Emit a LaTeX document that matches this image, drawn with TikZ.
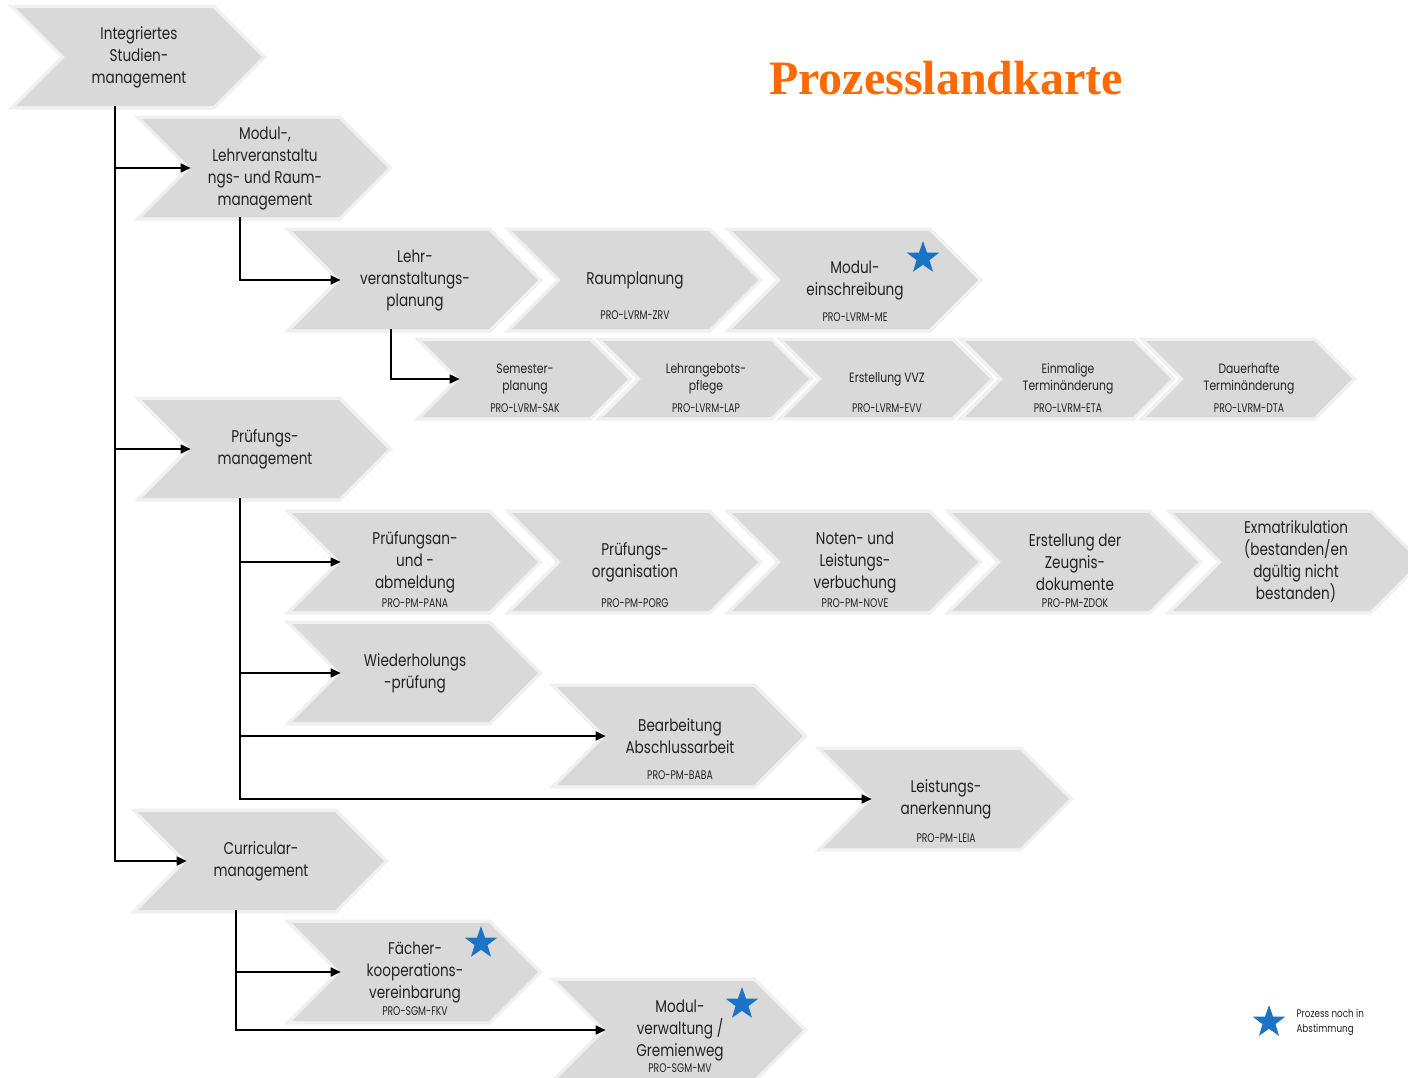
\documentclass[tikz,border=0pt]{standalone}
\usepackage{fontspec}
\setmainfont{Poppins}[FakeStretch=0.8]
\newfontfamily\codefont{Poppins}[FakeStretch=0.74]
\newfontfamily\titlefont{Liberation Serif}
\usetikzlibrary{shapes.symbols,shapes.geometric,arrows.meta,calc}
\definecolor{chevfill}{HTML}{D9D9D9}
\definecolor{chevglow}{HTML}{F0F0F0}
\definecolor{txt}{HTML}{222222}
\definecolor{starblue}{HTML}{1A73C4}
\definecolor{titleorange}{HTML}{FF6A00}
\tikzset{
  chev/.style={signal, signal from=west, signal to=east, signal pointer angle=90,
    minimum width=246pt, minimum height=98pt, inner sep=0pt, fill=chevfill,
    preaction={draw=chevglow, line width=7pt, line join=miter},
    align=center, font=\fontsize{17}{22}\selectfont, text=txt},
  smallchev/.style={chev, minimum width=206pt, minimum height=76pt,
    font=\fontsize{13.5}{17}\selectfont},
  code/.style={font=\codefont\fontsize{12.5}{12.5}\selectfont, text=txt, inner sep=0pt},
  bluestar/.style={star, star points=5, star point ratio=2.5, minimum size=34pt,
    inner sep=0pt, fill=starblue},
  conn/.style={draw=black, line width=1.5pt, -{Triangle[length=10pt,width=9pt]}}
}
\begin{document}
\begin{tikzpicture}[x=1pt,y=-1pt]
\useasboundingbox (0,0) rectangle (1408,1077);
\clip (0,0) rectangle (1408,1077);
\fill[white] (0,0) rectangle (1408,1077);

% title
\node[font=\titlefont\bfseries\fontsize{48}{48}\selectfont, text=titleorange] (title) at (946,78) {Prozesslandkarte};

% level 1
\node[chev] (c1) at (139,57) {Integriertes\\Studien-\\management};
% level 2
\node[chev] (c2) at (265,168) {Modul-,\\Lehrveranstaltu\\ngs- und Raum-\\management};
\node[chev] (c11) at (265,449) {Prüfungs-\\management};
\node[chev] (c20) at (261,861) {Curricular-\\management};

% LVRM row
\node[chev] (c3) at (415,280) {Lehr-\\veranstaltungs-\\planung};
\node[chev] (c4) at (635,280) {Raumplanung};
\node[code] (k4) at ($(c4)+(0,35)$) {PRO-LVRM-ZRV};
\node[chev] (c5) at (855,280) {Modul-\\einschreibung};
\node[code] (k5) at ($(c5)+(0,37)$) {PRO-LVRM-ME};
\node[bluestar] (s5) at ($(c5)+(68,-22)$) {};

% small row
\node[smallchev] (c6) at (525,379) {Semester-\\planung};
\node[code] (k6) at ($(c6)+(0,29)$) {PRO-LVRM-SAK};
\node[smallchev] (c7) at (706,379) {Lehrangebots-\\pflege};
\node[code] (k7) at ($(c7)+(0,29)$) {PRO-LVRM-LAP};
\node[smallchev] (c8) at (887,379) {Erstellung VVZ};
\node[code] (k8) at ($(c8)+(0,29)$) {PRO-LVRM-EVV};
\node[smallchev] (c9) at (1068,379) {Einmalige\\Terminänderung};
\node[code] (k9) at ($(c9)+(0,29)$) {PRO-LVRM-ETA};
\node[smallchev] (c10) at (1249,379) {Dauerhafte\\Terminänderung};
\node[code] (k10) at ($(c10)+(0,29)$) {PRO-LVRM-DTA};

% PM row
\node[chev] (c12) at (415,562) {Prüfungsan-\\und -\\abmeldung};
\node[code] (k12) at ($(c12)+(0,41)$) {PRO-PM-PANA};
\node[chev] (c13) at (635,562) {Prüfungs-\\organisation};
\node[code] (k13) at ($(c13)+(0,41)$) {PRO-PM-PORG};
\node[chev] (c14) at (855,562) {Noten- und\\Leistungs-\\verbuchung};
\node[code] (k14) at ($(c14)+(0,41)$) {PRO-PM-NOVE};
\node[chev] (c15) at (1075,562) {Erstellung der\\Zeugnis-\\dokumente};
\node[code] (k15) at ($(c15)+(0,41)$) {PRO-PM-ZDOK};
\node[chev] (c16) at (1296,562) {Exmatrikulation\\(bestanden/en\\dgültig nicht\\bestanden)};

\node[chev] (c17) at (415,673) {Wiederholungs\\-prüfung};
\node[chev] (c18) at (680,736) {Bearbeitung\\Abschlussarbeit};
\node[code] (k18) at ($(c18)+(0,39)$) {PRO-PM-BABA};
\node[chev] (c19) at (946,799) {Leistungs-\\anerkennung};
\node[code] (k19) at ($(c19)+(0,39)$) {PRO-PM-LEIA};

% SGM
\node[chev] (c21) at (415,972) {Fächer-\\kooperations-\\vereinbarung};
\node[code] (k21) at ($(c21)+(0,39)$) {PRO-SGM-FKV};
\node[bluestar] (s21) at ($(c21)+(66,-29)$) {};
\node[chev] (c22) at (680,1030) {Modul-\\verwaltung /\\Gremienweg};
\node[code] (k22) at ($(c22)+(0,38)$) {PRO-SGM-MV};
\node[bluestar] (s22) at ($(c22)+(62,-26)$) {};

% connectors
\coordinate (b1) at ($(c1.south)+(-24,0)$);
\draw[conn] (b1) |- (c2.west);
\draw[conn] (b1) |- (c11.west);
\draw[conn] (b1) |- (c20.west);
\coordinate (b2) at ($(c2.south)+(-25,0)$);
\draw[conn] (b2) |- (c3.west);
\coordinate (b3) at ($(c3.south)+(-24,0)$);
\draw[conn] (b3) |- (c6.west);
\coordinate (b11) at ($(c11.south)+(-25,0)$);
\draw[conn] (b11) |- (c12.west);
\draw[conn] (b11) |- (c17.west);
\draw[conn] (b11) |- (c18.west);
\draw[conn] (b11) |- (c19.west);
\coordinate (b20) at ($(c20.south)+(-25,0)$);
\draw[conn] (b20) |- (c21.west);
\draw[conn] (b20) |- (c22.west);

% legend
\node[bluestar] (ls) at (1269,1022) {};
\node[anchor=west, align=left, font=\fontsize{11}{15}\selectfont, text=txt] (lt) at (1293,1022) {Prozess noch in\\Abstimmung};
\end{tikzpicture}
\end{document}
